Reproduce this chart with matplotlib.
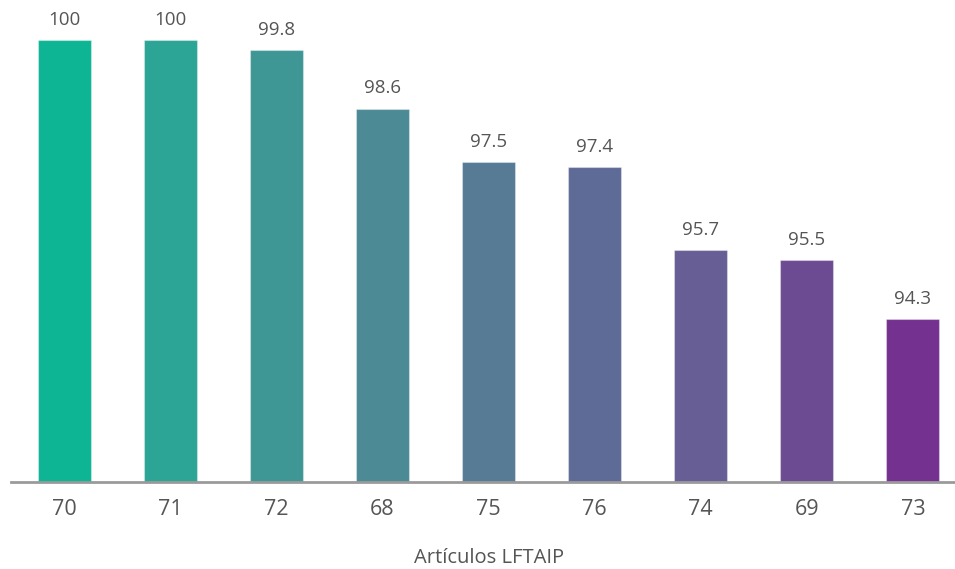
import matplotlib
matplotlib.use("Agg")
import matplotlib.pyplot as plt
import numpy as np

categories = ["70", "71", "72", "68", "75", "76", "74", "69", "73"]
values = [100, 100, 99.8, 98.6, 97.5, 97.4, 95.7, 95.5, 94.3]
value_labels = ["100", "100", "99.8", "98.6", "97.5", "97.4", "95.7", "95.5", "94.3"]
xlabel = "Artículos LFTAIP"

colors = ["#0EB594", "#2DA596", "#3F9795", "#4C8A96", "#577A95",
          "#5F6B97", "#675E96", "#6D4B92", "#74318F"]
n = len(values)

plt.rcParams['font.family'] = ['Open Sans', 'DejaVu Sans']
fig = plt.figure(figsize=(9.55, 5.69), dpi=100)
ax = fig.add_axes([11/955, 87/569, 944/955, 482/569])
x = np.arange(n)
ax.bar(x, values, width=0.5, color=colors, edgecolor=[(1, 1, 1, 0.35)] * n,
       linewidth=0.8, zorder=2)
ax.set_xlim(-0.5, -0.5 + 944/106.1)
ax.set_ylim(90.97, 90.97 + 482/48.95)
for xi, v, lab in zip(x, values, value_labels):
    ax.annotate(lab, (xi, v), xytext=(0, 8), textcoords="offset points",
                ha="center", va="bottom", fontsize=13.5, color="#555555")
for s in ["top", "right", "left"]:
    ax.spines[s].set_visible(False)
ax.spines["bottom"].set_color("#9a9a9a")
ax.spines["bottom"].set_linewidth(2)
ax.set_yticks([])
ax.set_xticks(x)
ax.set_xticklabels(categories, fontsize=15.5, color="#555555")
ax.tick_params(axis="x", length=0, pad=12)
fig.text(489/955, 1 - 558/569, xlabel, ha="center", va="center", fontsize=14.5, color="#555555")
fig.savefig("out.png", dpi=100)
